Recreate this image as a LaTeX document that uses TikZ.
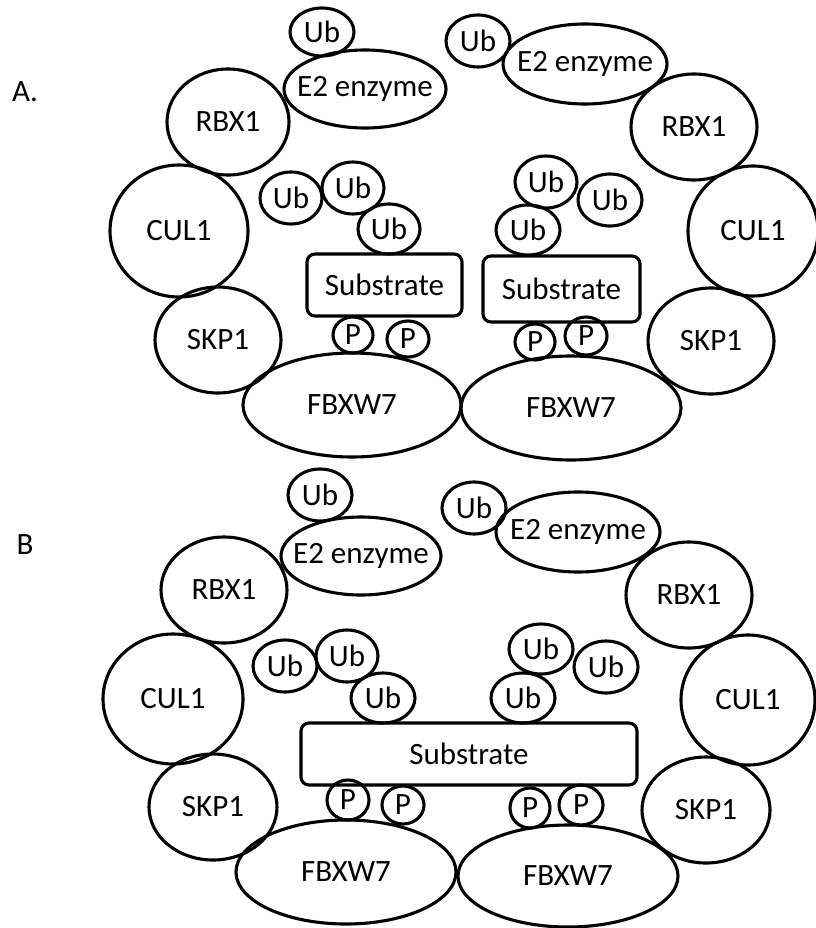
\documentclass[tikz,border=0pt]{standalone}
\usepackage{fontspec}
\setmainfont{Carlito}
\usepackage{tikz}
\usetikzlibrary{shapes.geometric}

\begin{document}
\begin{tikzpicture}[x=1pt,y=-1pt,
  blob/.style={draw,ellipse,line width=3.1pt,inner sep=0pt},
  sz/.style 2 args={minimum width=#1pt,minimum height=#2pt},
  wide/.style={inner xsep=-16pt},
  subbox/.style={draw,rectangle,rounded corners=8pt,line width=3.1pt,inner sep=0pt},
  tag/.style={inner sep=0pt},
  font=\fontsize{31}{37}\selectfont
]
\useasboundingbox (0,0) rectangle (815,928);
% panel A
\node[tag] (labA) at (25,92) {A.};
\node[blob,sz={64}{48}] (aubL) at (322,32) {Ub};
\node[blob,wide,sz={162}{78}] (ae2L) at (365,89) {E2 enzyme};
\node[blob,sz={122}{106}] (arbxL) at (228,122) {RBX1};
\node[blob,sz={138}{132}] (aculL) at (179,231) {CUL1};
\node[blob,sz={126}{106}] (askpL) at (218,340) {SKP1};
\node[blob,sz={218}{104}] (afbxL) at (352,405) {FBXW7};
\node[blob,sz={62}{52}] (aub1L) at (291,198) {Ub};
\node[blob,sz={62}{52}] (aub2L) at (353,188) {Ub};
\node[blob,sz={62}{50}] (aub3L) at (389,229) {Ub};
\node[subbox,sz={155}{62}] (asubL) at (384.5,285) {Substrate};
\node[blob,sz={40}{36}] (ap1L) at (353,335) {P};
\node[blob,sz={42}{36}] (ap2L) at (408,339) {P};

\node[blob,sz={64}{52}] (aubR) at (478,41) {Ub};
\node[blob,wide,sz={164}{80}] (ae2R) at (585,64) {E2 enzyme};
\node[blob,sz={126}{106}] (arbxR) at (694,127) {RBX1};
\node[blob,sz={130}{130}] (aculR) at (753,231) {CUL1};
\node[blob,sz={126}{106}] (askpR) at (711,341) {SKP1};
\node[blob,sz={220}{104}] (afbxR) at (571,408) {FBXW7};
\node[blob,sz={62}{52}] (aub1R) at (546,182) {Ub};
\node[blob,sz={64}{52}] (aub2R) at (610,200) {Ub};
\node[blob,sz={64}{50}] (aub3R) at (528,230) {Ub};
\node[subbox,sz={157}{66}] (asubR) at (561.5,289) {Substrate};
\node[blob,sz={40}{36}] (ap1R) at (535,342) {P};
\node[blob,sz={42}{38}] (ap2R) at (586,336) {P};

% panel B
\node[tag] (labB) at (25,545) {B};
\node[blob,sz={64}{52}] (bubL) at (320,495) {Ub};
\node[blob,wide,sz={160}{78}] (be2L) at (361,556) {E2 enzyme};
\node[blob,sz={126}{106}] (brbxL) at (224,590) {RBX1};
\node[blob,sz={140}{130}] (bculL) at (173,699) {CUL1};
\node[blob,sz={128}{106}] (bskpL) at (213,807) {SKP1};
\node[blob,sz={220}{104}] (bfbxL) at (346,872) {FBXW7};
\node[blob,sz={64}{52}] (bub1L) at (285,666) {Ub};
\node[blob,sz={62}{52}] (bub2L) at (347,656) {Ub};
\node[blob,sz={64}{50}] (bub3L) at (383,698) {Ub};
\node[subbox,sz={336}{62}] (bsub) at (469,754) {Substrate};
\node[blob,sz={42}{40}] (bp1L) at (348,800) {P};
\node[blob,sz={42}{38}] (bp2L) at (403,805) {P};

\node[blob,sz={64}{52}] (bubR) at (474,508) {Ub};
\node[blob,wide,sz={164}{80}] (be2R) at (578,532) {E2 enzyme};
\node[blob,sz={126}{106}] (brbxR) at (689,595) {RBX1};
\node[blob,sz={134}{130}] (bculR) at (748,700) {CUL1};
\node[blob,sz={128}{106}] (bskpR) at (706,810) {SKP1};
\node[blob,sz={220}{102}] (bfbxR) at (568,876) {FBXW7};
\node[blob,sz={64}{50}] (bub1R) at (541,649) {Ub};
\node[blob,sz={64}{52}] (bub2R) at (606,667) {Ub};
\node[blob,sz={64}{50}] (bub3R) at (523,698) {Ub};
\node[blob,sz={40}{40}] (bp1R) at (530,808) {P};
\node[blob,sz={44}{40}] (bp2R) at (581,805) {P};
\end{tikzpicture}
\end{document}
